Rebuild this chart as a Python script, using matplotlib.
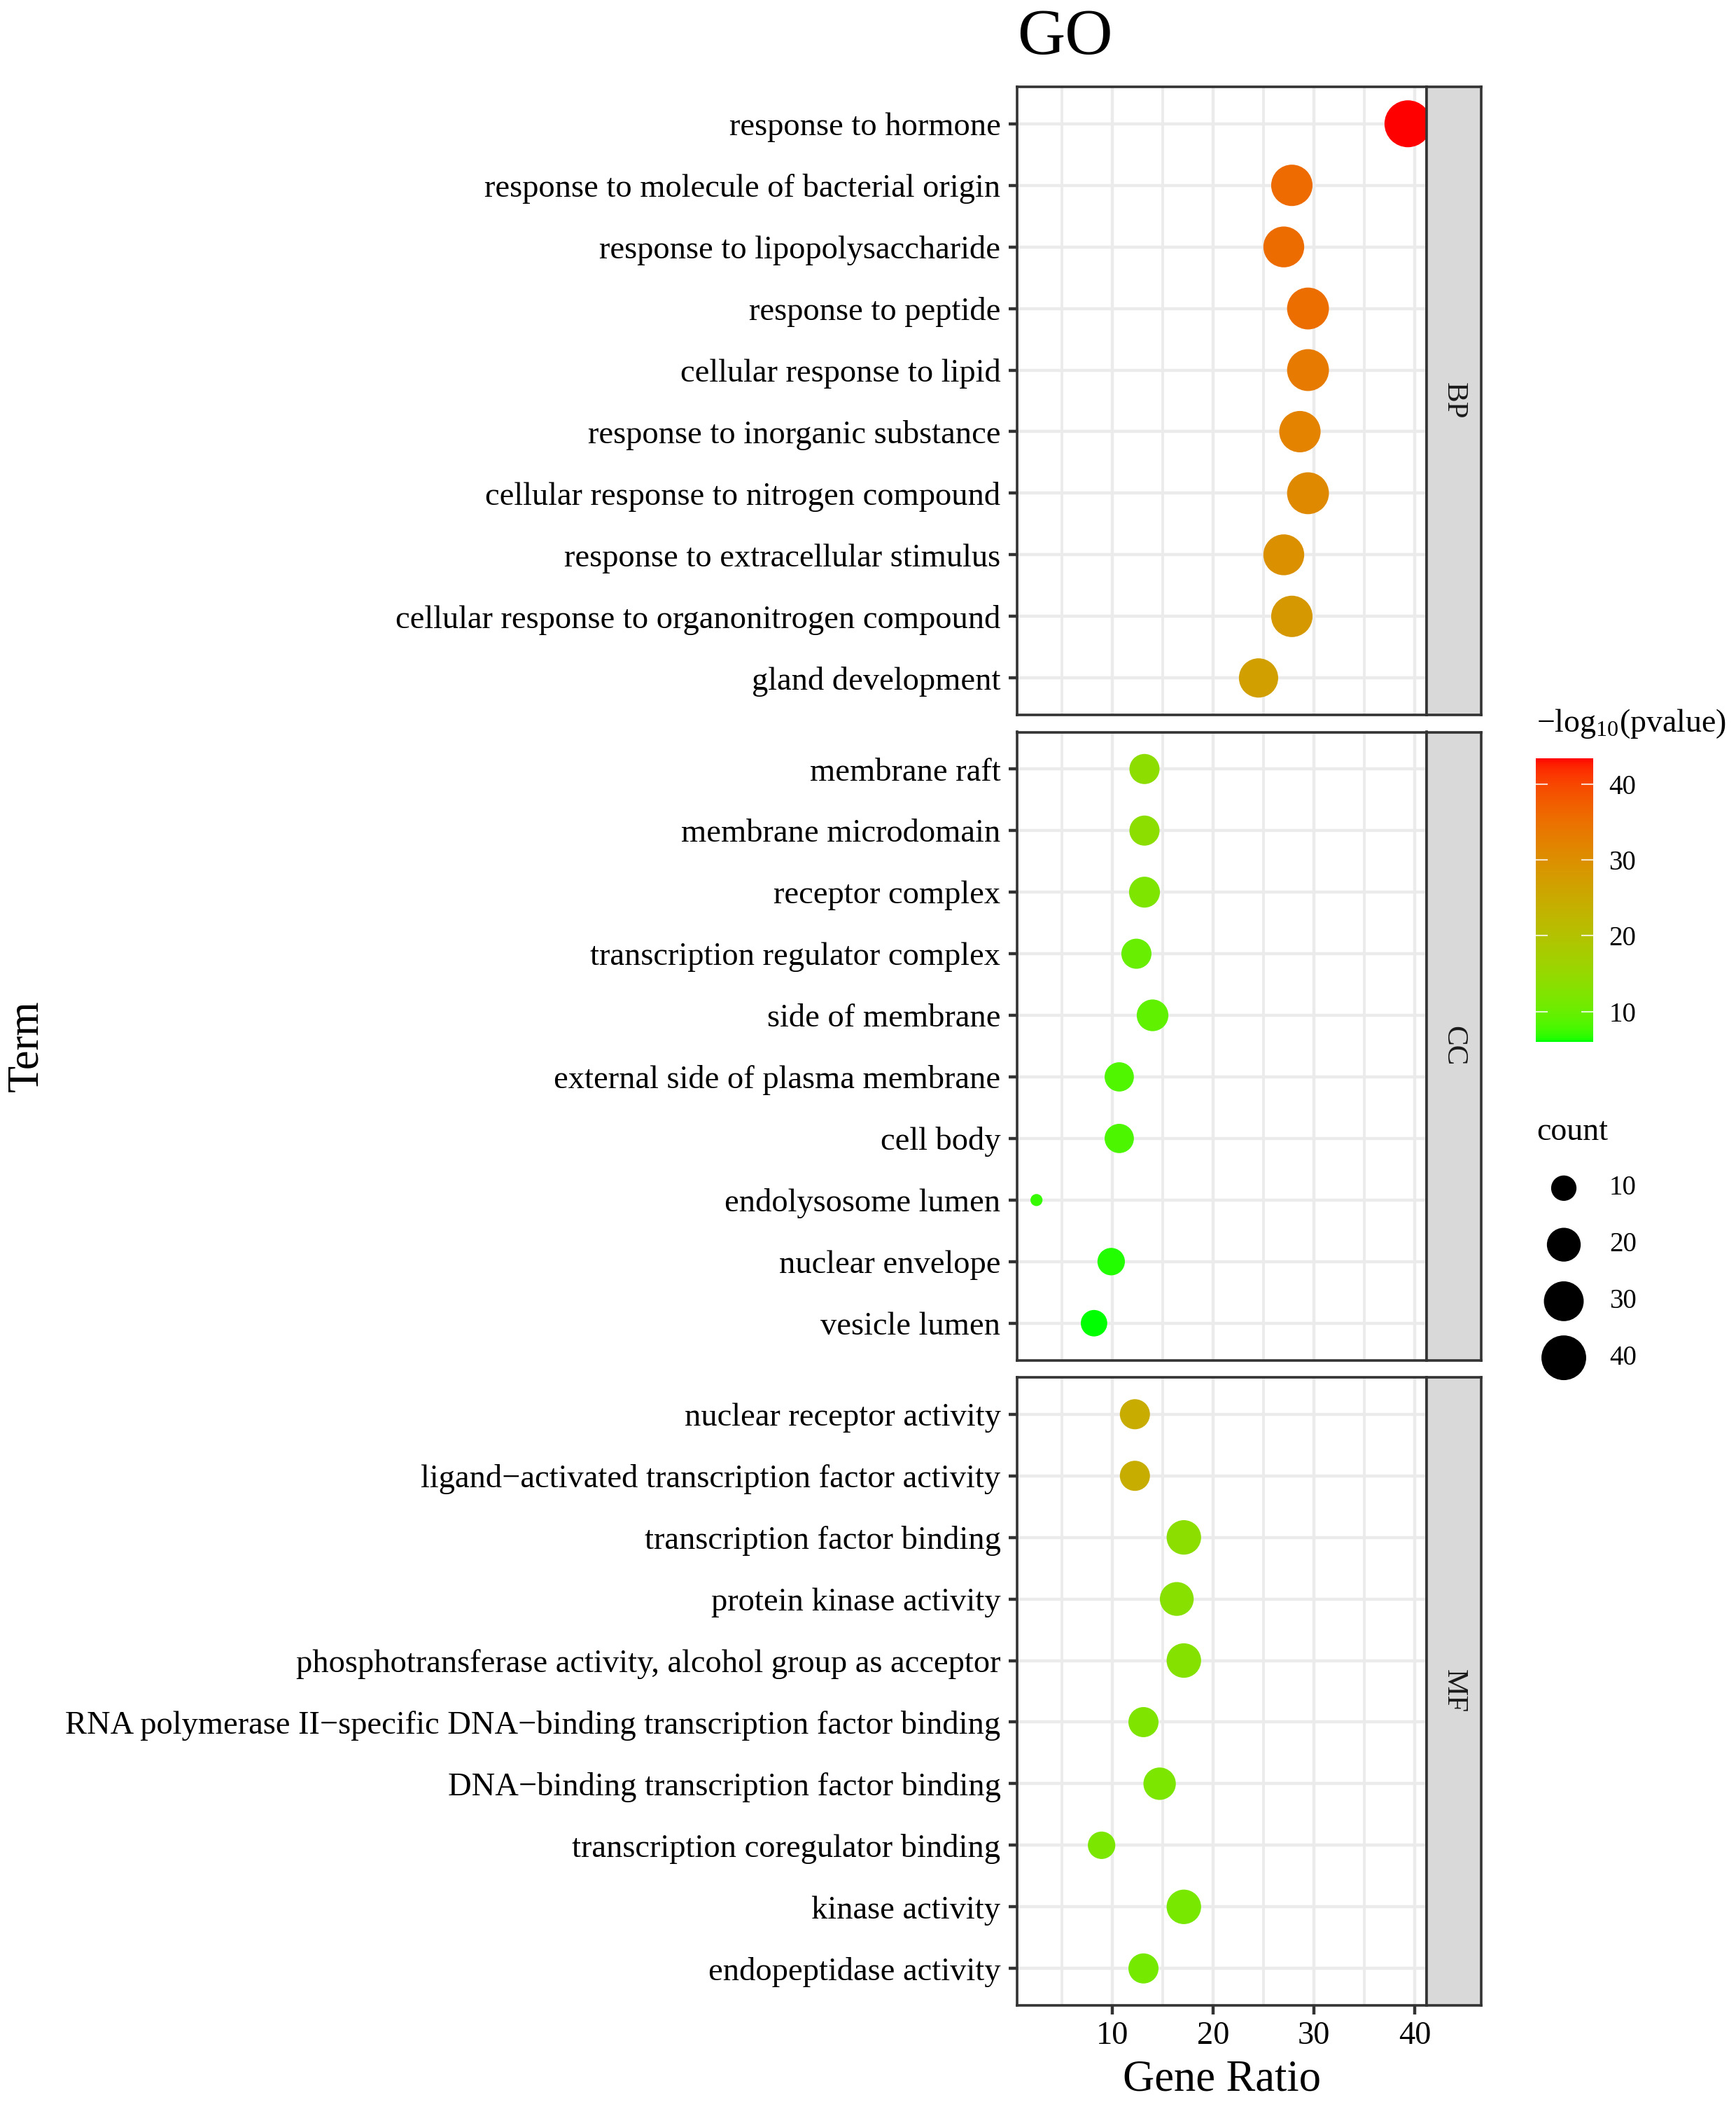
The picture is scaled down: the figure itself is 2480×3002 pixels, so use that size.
import numpy as np
import matplotlib
matplotlib.use('Agg')
import matplotlib.pyplot as plt
from matplotlib.colors import ListedColormap, Normalize
from matplotlib.cm import ScalarMappable

plt.rcParams['font.family'] = ['Liberation Serif', 'DejaVu Serif']
plt.rcParams['mathtext.fontset'] = 'custom'
plt.rcParams['mathtext.rm'] = 'Liberation Serif'
plt.rcParams['mathtext.default'] = 'rm'

# ---- data ----
bp_terms = ['response to hormone', 'response to molecule of bacterial origin',
            'response to lipopolysaccharide', 'response to peptide',
            'cellular response to lipid', 'response to inorganic substance',
            'cellular response to nitrogen compound', 'response to extracellular stimulus',
            'cellular response to organonitrogen compound', 'gland development']
bp_ratio = [39.3, 27.8, 27.0, 29.4, 29.4, 28.6, 29.4, 27.0, 27.8, 24.5]
bp_count = [45, 33, 32, 34, 34, 33, 34, 32, 33, 29]
bp_logp = [43.4, 35.8, 35.6, 35.4, 33.5, 32.1, 31.1, 29.8, 28.3, 26.8]

cc_terms = ['membrane raft', 'membrane microdomain', 'receptor complex',
            'transcription regulator complex', 'side of membrane',
            'external side of plasma membrane', 'cell body', 'endolysosome lumen',
            'nuclear envelope', 'vesicle lumen']
cc_ratio = [13.2, 13.2, 13.2, 12.4, 14.0, 10.7, 10.7, 2.5, 9.9, 8.2]
cc_count = [15, 15, 16, 15, 17, 14, 14, 4, 12, 11]
cc_logp = [14.0, 13.8, 12.0, 10.0, 9.3, 8.3, 8.1, 7.1, 6.5, 6.0]

mf_terms = ['nuclear receptor activity', 'ligand\u2212activated transcription factor activity',
            'transcription factor binding', 'protein kinase activity',
            'phosphotransferase activity, alcohol group as acceptor',
            'RNA polymerase II\u2212specific DNA\u2212binding transcription factor binding',
            'DNA\u2212binding transcription factor binding', 'transcription coregulator binding',
            'kinase activity', 'endopeptidase activity']
mf_ratio = [12.25, 12.25, 17.1, 16.4, 17.1, 13.1, 14.7, 8.95, 17.1, 13.1]
mf_count = [15, 15, 21, 20, 21, 15, 18, 12, 21, 15]
mf_logp = [24.5, 24.3, 13.6, 13.2, 13.0, 12.2, 11.9, 11.7, 11.5, 11.3]

ontologies = ['BP', 'CC', 'MF']
x_ticks = [10, 20, 30, 40]
size_breaks = [10, 20, 30, 40]
color_breaks = [10, 20, 30, 40]

panels = [(ontologies[0], bp_terms, bp_ratio, bp_count, bp_logp),
          (ontologies[1], cc_terms, cc_ratio, cc_count, cc_logp),
          (ontologies[2], mf_terms, mf_ratio, mf_count, mf_logp)]

# ---- green -> red gradient interpolated in CIELAB (like ggplot) ----
WHITE = np.array([0.95047, 1.0, 1.08883])
M = np.array([[0.4124564, 0.3575761, 0.1804375],
              [0.2126729, 0.7151522, 0.0721750],
              [0.0193339, 0.1191920, 0.9503041]])


def rgb2lab(c):
    c = np.asarray(c, float)
    lin = np.where(c <= 0.04045, c / 12.92, ((c + 0.055) / 1.055) ** 2.4)
    t = (M @ lin) / WHITE
    f = np.where(t > (6 / 29) ** 3, np.cbrt(t), t / (3 * (6 / 29) ** 2) + 4 / 29)
    return np.array([116 * f[1] - 16, 500 * (f[0] - f[1]), 200 * (f[1] - f[2])])


def lab2rgb(lab):
    L, a, b = lab
    fy = (L + 16) / 116
    f = np.array([fy + a / 500, fy, fy - b / 200])
    t = np.where(f > 6 / 29, f ** 3, 3 * (6 / 29) ** 2 * (f - 4 / 29)) * WHITE
    lin = np.linalg.solve(M, t)
    lin = np.clip(lin, 0, 1)
    c = np.where(lin <= 0.0031308, 12.92 * lin, 1.055 * lin ** (1 / 2.4) - 0.055)
    return np.clip(c, 0, 1)


lab_lo, lab_hi = rgb2lab([0, 1, 0]), rgb2lab([1, 0, 0])
ramp = [lab2rgb(lab_lo + (lab_hi - lab_lo) * t) for t in np.linspace(0, 1, 256)]
cmap = ListedColormap(ramp)
all_logp = bp_logp + cc_logp + mf_logp
norm = Normalize(min(all_logp), max(all_logp))

all_count = bp_count + cc_count + mf_count
c_min, c_max = min(all_count), max(all_count)
D_MIN, D_MAX = 17.2, 67.0  # point diameters in px


def point_area(cnt):
    cnt = np.asarray(cnt, float)
    d_px = D_MIN + (D_MAX - D_MIN) * np.sqrt((cnt - c_min) / (c_max - c_min))
    return (d_px / (100 / 72)) ** 2


# ---- layout (pixels) ----
W, H = 2480, 3002


def box(x0, y0, x1, y1):
    return [x0 / W, 1 - y1 / H, (x1 - x0) / W, (y1 - y0) / H]


PX0, PX1, SX1 = 1453, 2038, 2116
TOPS = [124, 1045.5, 1967]
PH = 897
DARK = '#333333'

fig = plt.figure(figsize=(24.8, 30.02), dpi=100)

for i, (name, terms, ratio, count, logp) in enumerate(panels):
    top = TOPS[i]
    ax = fig.add_axes(box(PX0, top, PX1, top + PH))
    y = np.arange(len(terms))
    ax.scatter(ratio, y, s=point_area(count), c=logp, cmap=cmap, norm=norm,
               linewidths=0, zorder=3)
    ax.set_xlim(0.58, 41.15)
    ax.set_ylim(len(terms) - 0.4, -0.6)
    ax.set_yticks(y)
    ax.set_yticklabels(terms, fontsize=33.5, color='black')
    ax.set_xticks(x_ticks)
    ax.set_xticks([5, 15, 25, 35], minor=True)
    ax.set_axisbelow(True)
    ax.grid(which='major', color='#EBEBEB', lw=3.2)
    ax.grid(which='minor', axis='x', color='#EBEBEB', lw=2.8)
    for sp in ax.spines.values():
        sp.set_color(DARK)
        sp.set_linewidth(2.6)
    ax.tick_params(axis='y', length=9, width=3.2, color=DARK, pad=8)
    ax.tick_params(axis='x', which='minor', length=0)
    if i == len(panels) - 1:
        ax.tick_params(axis='x', which='major', length=9, width=3.2, color=DARK,
                       pad=7, labelsize=33.5, labelcolor='black')
    else:
        ax.tick_params(axis='x', which='major', length=0, labelbottom=False)

    sax = fig.add_axes(box(PX1, top, SX1, top + PH))
    sax.set_facecolor('#D9D9D9')
    sax.set_xticks([])
    sax.set_yticks([])
    for sp in sax.spines.values():
        sp.set_color(DARK)
        sp.set_linewidth(2.6)
    sax.text(0.5, 0.5, name, rotation=-90, ha='center', va='center',
             fontsize=31, color='#1A1A1A', transform=sax.transAxes)

# titles
fig.text(1521 / W, 1 - 77 / H, 'GO', ha='center', va='baseline', fontsize=68)
fig.text((PX0 + PX1) / 2 / W, 1 - 2985 / H, 'Gene Ratio', ha='center',
         va='baseline', fontsize=45)
fig.text(38 / W, 1 - 1494 / H, 'Term', ha='center', va='center', rotation=90,
         fontsize=45)

# colour bar
fig.text(2195 / W, 1 - 1045 / H, '\u2212log$_{10}$(pvalue)', ha='left',
         va='baseline', fontsize=33)
cax = fig.add_axes(box(2194, 1083, 2276, 1488))
cb = fig.colorbar(ScalarMappable(norm=norm, cmap=cmap), cax=cax)
cb.outline.set_visible(False)
cb.set_ticks(color_breaks)
cax.tick_params(length=0, pad=16, labelsize=28)
for v in color_breaks:
    cax.plot([0, 0.2], [v, v], color='white', lw=1.5, alpha=0.8)
    cax.plot([0.8, 1], [v, v], color='white', lw=1.5, alpha=0.8)
cax.set_xlim(0, 1)

# size legend
fig.text(2195 / W, 1 - 1628 / H, 'count', ha='left', va='baseline', fontsize=33)
lax = fig.add_axes(box(2194, 1656.5, 2480, 1979.5))
lax.set_xlim(0, 286)
lax.set_ylim(len(size_breaks) - 0.5, -0.5)
lax.axis('off')
k = np.arange(len(size_breaks))
lax.scatter(np.full(len(k), 40), k, s=point_area(size_breaks), color='black',
            linewidths=0)
for j, v in enumerate(size_breaks):
    lax.text(105, j, str(v), ha='left', va='center', fontsize=28)

fig.savefig('out.png', dpi=100)
